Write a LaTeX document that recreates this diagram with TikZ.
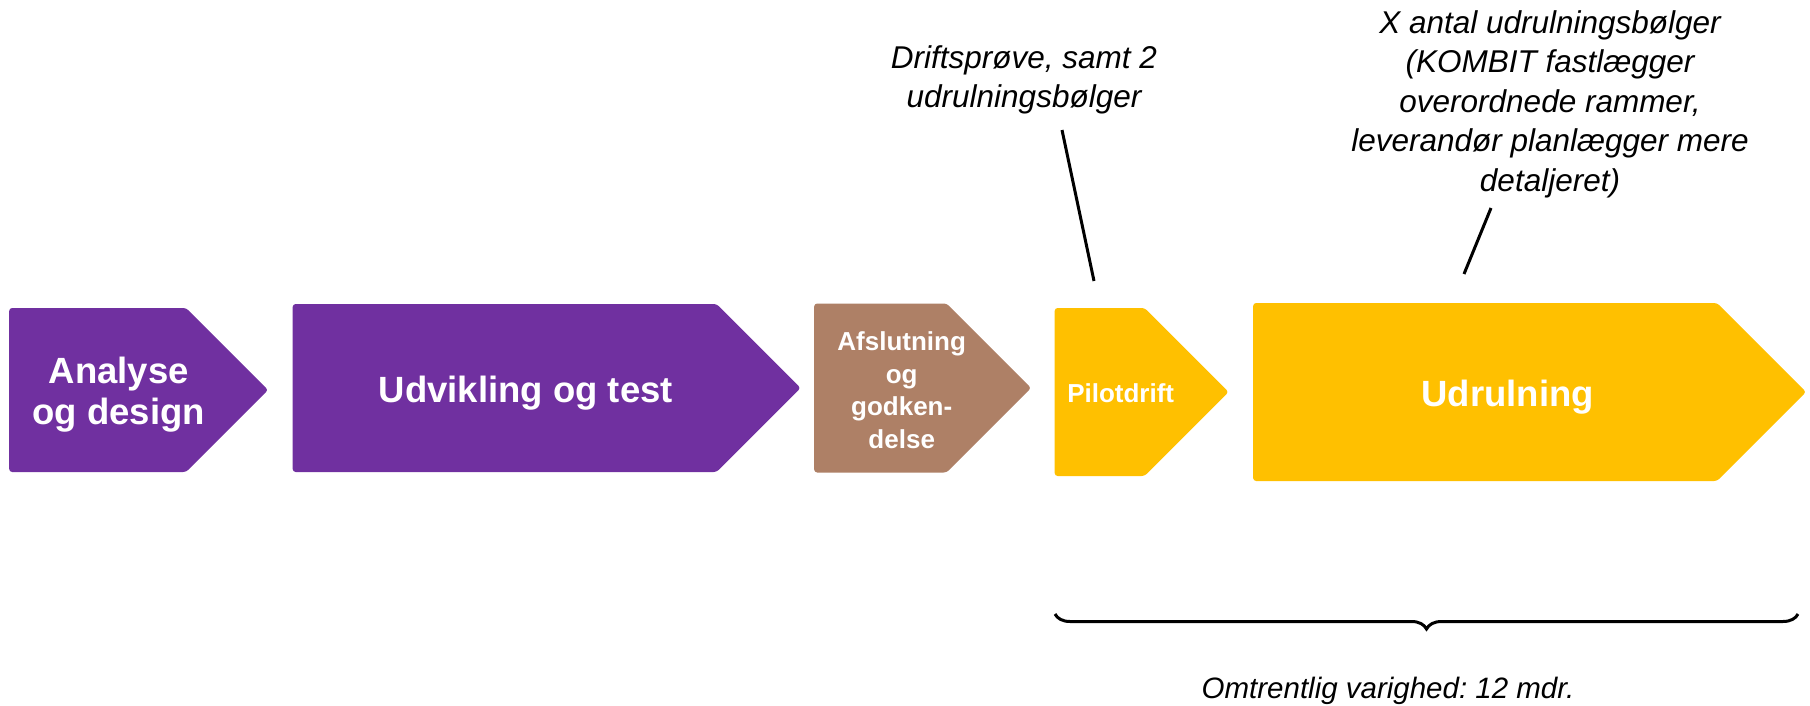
\documentclass[tikz,border=0pt]{standalone}
\usepackage{fontspec}
\setmainfont{Liberation Sans}
\usepackage{tikz}
\usetikzlibrary{shapes.symbols}
\usetikzlibrary{positioning}
\usetikzlibrary{calc}
\usetikzlibrary{decorations.pathreplacing}
\frenchspacing
\definecolor{phasepurple}{RGB}{112,48,160}
\definecolor{phasebrown}{RGB}{174,128,102}
\definecolor{phaseyellow}{RGB}{255,192,0}
\tikzstyle{phase} = [signal, signal to=east, signal pointer angle=90, inner sep=0pt, draw=none, rounded corners=3pt]
\tikzstyle{bigtext} = [text=white, align=center, inner sep=0pt, yshift=-5pt, font=\bfseries\fontsize{36.5}{41}\selectfont]
\tikzstyle{smalltext} = [text=white, align=center, inner sep=0pt, yshift=-2pt, font=\bfseries\fontsize{26}{32.5}\selectfont]
\tikzstyle{note} = [align=center, inner sep=0pt, font=\itshape\fontsize{31.5}{39.5}\selectfont]
\tikzstyle{pointer} = [line width=3pt]

\begin{document}
\begin{tikzpicture}[x=1pt, y=-1pt]
                    \useasboundingbox (0,0) rectangle (1810,706);
                    \node (analyse) [phase, fill=phasepurple, minimum width=259pt, minimum height=164pt, anchor=west] at (9,390) {};
                    \node (udvikling) [phase, fill=phasepurple, minimum width=508pt, minimum height=168pt, right=24pt of analyse, yshift=2pt] {};
                    \node (afslutning) [phase, fill=phasebrown, minimum width=217pt, minimum height=169pt, right=13pt of udvikling] {};
                    \node (pilot) [phase, fill=phaseyellow, minimum width=174pt, minimum height=168pt, right=23pt of afslutning, yshift=-4pt] {};
                    \node (udrulning) [phase, fill=phaseyellow, minimum width=553pt, minimum height=178pt, right=24pt of pilot] {};
                    \node (analysetxt) [bigtext, xshift=-20pt] at ($(analyse.west)!0.5!(analyse.east)$) {Analyse\\og design};
                    \node (udviklingtxt) [bigtext, xshift=-21pt] at ($(udvikling.west)!0.5!(udvikling.east)$) {Udvikling og test};
                    \node (afslutningtxt) [smalltext, xshift=-21pt] at ($(afslutning.west)!0.5!(afslutning.east)$) {Afslutning\\og\\godken-\\delse};
                    \node (pilottxt) [smalltext, xshift=-21pt, yshift=1pt] at ($(pilot.west)!0.5!(pilot.east)$) {Pilotdrift};
                    \node (udrulningtxt) [bigtext, xshift=-22pt] at ($(udrulning.west)!0.5!(udrulning.east)$) {Udrulning};
                    \node (pilotnote) [note] at (1024,80) {Driftsprøve, samt 2\\udrulningsbølger};
                    \node (udrulningnote) [note] at (1550,104) {X antal udrulningsbølger\\(KOMBIT fastlægger\\overordnede rammer,\\leverandør planlægger mere\\detaljeret)};
                    \node (varighed) [note, anchor=base, font=\itshape\fontsize{29.5}{36}\selectfont] at (1388,698) {Omtrentlig varighed: 12 mdr.};
                    \coordinate (pilotlinetop) at (1062,130);
                    \coordinate (pilotlineend) at (1094,281);
                    \coordinate (udrulninglinetop) at (1491,208);
                    \coordinate (udrulninglineend) at (1464,274);
                    \coordinate (braceleft) at (1055,614);
                    \coordinate (braceright) at (1798,614);
                    \draw [pointer] (pilotlinetop) -- (pilotlineend);
                    \draw [pointer] (udrulninglinetop) -- (udrulninglineend);
                    \draw [pointer, decorate, decoration={brace, mirror, amplitude=15pt}] (braceleft) -- (braceright);
                \end{tikzpicture}
\end{document}
